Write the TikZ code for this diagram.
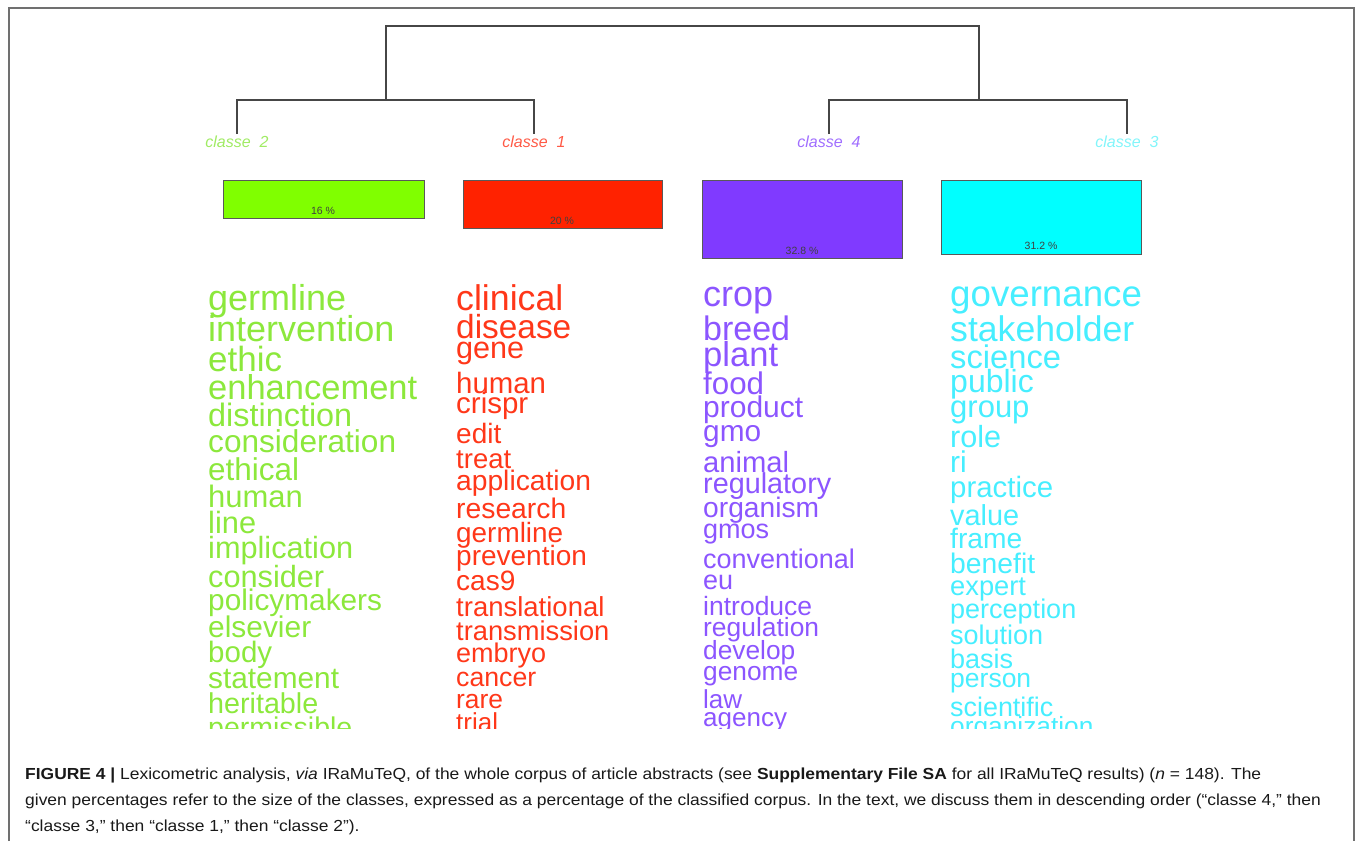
\documentclass[tikz,border=0pt]{standalone}
\usepackage{graphicx}
\usepackage{fontspec}
\setmainfont{Liberation Sans}
\definecolor{cgreen}{RGB}{128,255,0}
\definecolor{cred}{RGB}{255,34,0}
\definecolor{cpurple}{RGB}{128,58,255}
\definecolor{ccyan}{RGB}{0,255,255}
\definecolor{wgreen}{RGB}{140,232,60}
\definecolor{wred}{RGB}{255,55,25}
\definecolor{wpurple}{RGB}{140,85,255}
\definecolor{wcyan}{RGB}{70,238,255}
\definecolor{lgreen}{RGB}{160,235,100}
\definecolor{lred}{RGB}{255,90,70}
\definecolor{lpurple}{RGB}{160,110,255}
\definecolor{lcyan}{RGB}{130,245,250}
\definecolor{framegray}{RGB}{112,112,112}
\definecolor{dendro}{RGB}{70,70,70}
\newcommand{\capw}[1]{\scalebox{1.09}[1]{#1}}
\begin{document}
\begin{tikzpicture}[x=1pt,y=-1pt,
  word/.style={anchor=base west,inner sep=0pt},
  clabel/.style={font=\fontsize{16}{16}\selectfont\itshape,inner sep=0pt},
  pbox/.style={draw=black!65,line width=0.9pt,anchor=north west,inner sep=0pt},
  pct/.style={font=\fontsize{10.5}{10.5}\selectfont,text=black!75,inner sep=0pt},
  capline/.style={anchor=base west,inner sep=0pt,font=\fontsize{16}{16}\selectfont,text=black!90},
  dline/.style={draw=dendro,line width=1.2pt}]
\useasboundingbox (0,0) rectangle (1355,841);
% frame
\draw[framegray,line width=1.5pt] (9,841) -- (9,8) -- (1354,8) -- (1354,841);
% dendrogram
\coordinate (A) at (386,100);
\coordinate (B) at (979,100);
\coordinate (root) at (682,26);
\coordinate (L2) at (237,134);
\coordinate (L1) at (534,134);
\coordinate (L4) at (829,134);
\coordinate (L3) at (1127,134);
\draw[dline] (L2) |- (A) -| (L1);
\draw[dline] (L4) |- (B) -| (L3);
\draw[dline] (A) |- (root) -| (B);
% class labels
\node[clabel,text=lgreen] (lab2) at (237,142) {classe\ \ 2};
\node[clabel,text=lred] (lab1) at (534,142) {classe\ \ 1};
\node[clabel,text=lpurple] (lab4) at (829,142) {classe\ \ 4};
\node[clabel,text=lcyan] (lab3) at (1127,142) {classe\ \ 3};
% boxes
\node[pbox,fill=cgreen,minimum width=201pt,minimum height=38pt] (box2) at (223,180) {};
\node[pbox,fill=cred,minimum width=199pt,minimum height=48pt] (box1) at (463,180) {};
\node[pbox,fill=cpurple,minimum width=200pt,minimum height=78pt] (box4) at (702,180) {};
\node[pbox,fill=ccyan,minimum width=200pt,minimum height=74pt] (box3) at (941,180) {};
\node[pct] (p2) at (323,211) {16 \%};
\node[pct] (p1) at (562,221) {20 \%};
\node[pct] (p4) at (802,251) {32.8 \%};
\node[pct] (p3) at (1041,246) {31.2 \%};
% words
\begin{scope}
\clip (150,270) rectangle (1250,728.5);
\foreach \w/\s/\y [count=\i] in {germline/36/310,intervention/36/341,ethic/35/371,enhancement/34.5/399,distinction/32.4/426,consideration/31.6/452,ethical/31.5/480,human/31/507,line/30.8/533,implication/30.7/558,consider/30.7/587,policymakers/29.8/610,elsevier/29.9/637,body/29.5/662,statement/29.8/688,heritable/28.7/713,permissible/28.5/737}
  \node[word,text=wgreen,font=\fontsize{\s}{\s}\selectfont] (g\i) at (208,\y) {\w};
\foreach \w/\s/\y [count=\i] in {clinical/35.7/310,disease/33.4/338,gene/30.6/358,human/29.4/393,crispr/29.5/413,edit/28/443,treat/27.5/468,application/28.2/490,research/28.3/518,germline/27.9/542,prevention/28/565,cas9/28/590,translational/27.5/616,transmission/27.3/640,embryo/27/662,cancer/26.7/686,rare/26.4/708,trial/26/731}
  \node[word,text=wred,font=\fontsize{\s}{\s}\selectfont] (r\i) at (456,\y) {\w};
\foreach \w/\s/\y [count=\i] in {crop/36/306,breed/34/340,plant/34.6/366,food/31.3/394,product/30/417,gmo/29.8/441,animal/29.2/472,regulatory/28.8/493,organism/28.2/517,gmos/27/538,conventional/27/568,eu/27/589,introduce/26.5/615,regulation/26.4/636,develop/26.3/659,genome/26.3/680,law/26/708,agency/26/726}
  \node[word,text=wpurple,font=\fontsize{\s}{\s}\selectfont] (v\i) at (703,\y) {\w};
\foreach \w/\s/\y [count=\i] in {governance/36.7/306,stakeholder/35.6/341,science/32.7/368,public/32/392,group/31/417,role/30.6/447,ri/30/472,practice/29.4/497,value/28.9/525,frame/28.2/548,benefit/28.3/573,expert/27.3/595,perception/27/618,solution/27/644,basis/27/668,person/26.5/687,scientific/26.9/716,organization/26.3/735}
  \node[word,text=wcyan,font=\fontsize{\s}{\s}\selectfont] (c\i) at (950,\y) {\w};
\end{scope}
% caption
\node[capline] (cap1) at (25,779) {\capw{\textbf{FIGURE 4 |} Lexicometric analysis, \textit{via} IRaMuTeQ, of the whole corpus of article abstracts (see \textbf{Supplementary File SA} for all IRaMuTeQ results) (\textit{n} = 148). The}};
\node[capline] (cap2) at (25,805) {\capw{given percentages refer to the size of the classes, expressed as a percentage of the classified corpus. In the text, we discuss them in descending order (“classe 4,” then}};
\node[capline] (cap3) at (25,831) {\capw{“classe 3,” then “classe 1,” then “classe 2”).}};
\end{tikzpicture}
\end{document}
